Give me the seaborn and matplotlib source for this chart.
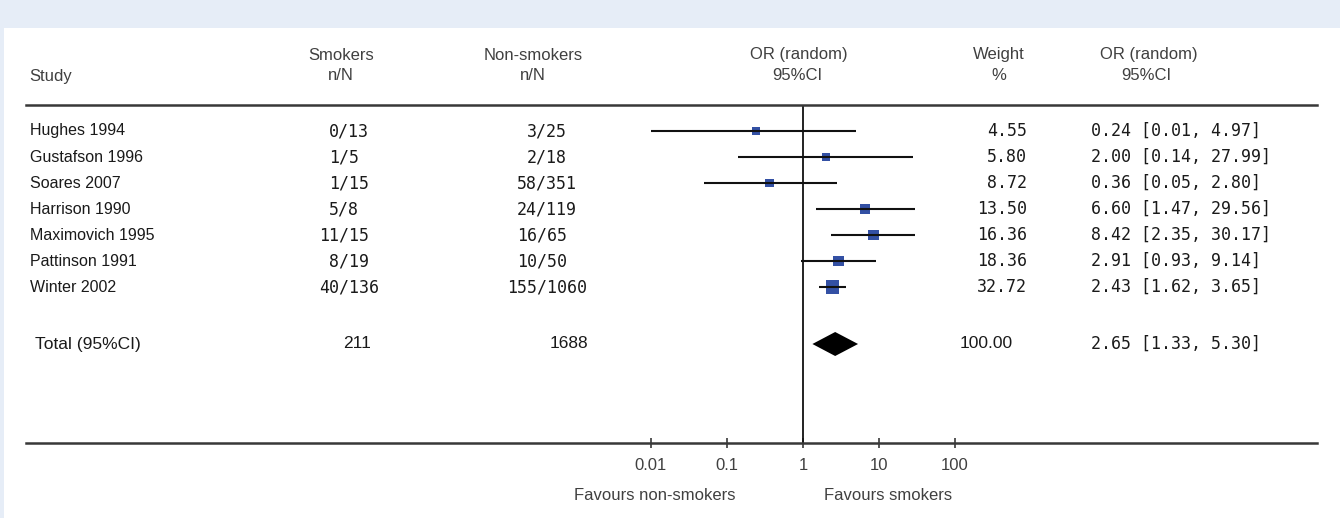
import numpy as np
import pandas as pd
import matplotlib
matplotlib.use("Agg")
import matplotlib.pyplot as plt
import matplotlib.transforms as mtransforms
from matplotlib.patches import Rectangle
import seaborn as sns

# ---------------- data ----------------
studies = ["Hughes 1994", "Gustafson 1996", "Soares 2007", "Harrison 1990",
           "Maximovich 1995", "Pattinson 1991", "Winter 2002"]
smokers_n = [0, 1, 1, 5, 11, 8, 40]
smokers_N = [13, 5, 15, 8, 15, 19, 136]
nonsmokers_n = [3, 2, 58, 24, 16, 10, 155]
nonsmokers_N = [25, 18, 351, 119, 65, 50, 1060]
weights = [4.55, 5.80, 8.72, 13.50, 16.36, 18.36, 32.72]
or_est = [0.24, 2.00, 0.36, 6.60, 8.42, 2.91, 2.43]
ci_low = [0.01, 0.14, 0.05, 1.47, 2.35, 0.93, 1.62]
ci_high = [4.97, 27.99, 2.80, 29.56, 30.17, 9.14, 3.65]

total_label = "Total (95%CI)"
total_smokers = 211
total_nonsmokers = 1688
total_weight = 100.00
total_or = 2.65
total_low = 1.33
total_high = 5.30

tick_values = [0.01, 0.1, 1, 10, 100]
tick_labels = ["0.01", "0.1", "1", "10", "100"]

# ---------------- style ----------------
sns.set_theme(style="white")
SANS = ["Liberation Sans", "DejaVu Sans"]
MONO = ["DejaVu Sans Mono"]
plt.rcParams["font.family"] = SANS

W, H = 1340, 518
fig = plt.figure(figsize=(W / 100, H / 100), dpi=100)
fig.patch.set_facecolor("#e6edf7")
fig.add_artist(Rectangle((4 / W, 0), 1 - 4 / W, 1 - 28 / H, transform=fig.transFigure,
                         facecolor="white", edgecolor="none", zorder=0))

# forest axes: spans the horizontal rules
x0, x1, y_top, y_bot = 26, 1317, 105, 443
ax = fig.add_axes([x0 / W, 1 - y_bot / H, (x1 - x0) / W, (y_bot - y_top) / H])
ax.set_facecolor("none")

ref_px, decade_px = 803, 76
ax.set_xscale("log")
ax.set_xlim(10 ** ((x0 - ref_px) / decade_px), 10 ** ((x1 - ref_px) / decade_px))
row0_px, row_px = 131, 26
ax.set_ylim((y_bot - row0_px) / row_px, -(row0_px - y_top) / row_px)

rows = np.arange(len(studies))
total_row = (344 - row0_px) / row_px

df = pd.DataFrame({"study": studies, "row": rows, "weight": weights,
                   "or": or_est, "lo": ci_low, "hi": ci_high})

# markers
sns.scatterplot(data=df, x="or", y="row", size="weight", sizes=(32, 90),
                size_norm=(min(weights), max(weights)), marker="s",
                color="#3350a4", linewidth=0, legend=False, ax=ax, zorder=3)
# CI lines
ax.hlines(df["row"], df["lo"], df["hi"], color="#111111", lw=1.5, zorder=4)
# null line
ax.axvline(1, color="#111111", lw=1.3, zorder=2)
# diamond
dh = 12 / row_px
ax.fill([total_low, total_or, total_high, total_or],
        [total_row, total_row - dh, total_row, total_row + dh],
        color="black", zorder=4, lw=0)

# axes styling
for side in ["left", "right"]:
    ax.spines[side].set_visible(False)
for side in ["top", "bottom"]:
    ax.spines[side].set_visible(True)
    ax.spines[side].set_color("#383838")
    ax.spines[side].set_linewidth(1.8)
ax.set_yticks([])
ax.set_xticks(tick_values)
ax.set_xticklabels(tick_labels)
ax.xaxis.set_minor_locator(matplotlib.ticker.NullLocator())
ax.tick_params(axis="x", direction="inout", length=7, width=1.2, color="#383838",
               pad=7, labelsize=12, labelcolor="#404040", bottom=True)
ax.set_xlabel("")
ax.set_ylabel("")

# ---------------- text ----------------
def fx(px):
    return px / W

def fy(py):
    return 1 - py / H

hdr = dict(fontsize=12, color="#404040", va="center", family=SANS)
fig.text(fx(29), fy(76), "Study", ha="left", **hdr)
fig.text(fx(341), fy(55), "Smokers", ha="center", **hdr)
fig.text(fx(341), fy(76), "n/N", ha="center", **hdr)
fig.text(fx(533), fy(55), "Non-smokers", ha="center", **hdr)
fig.text(fx(533), fy(76), "n/N", ha="center", **hdr)
fig.text(fx(799), fy(55), "OR (random)", ha="center", **hdr)
fig.text(fx(797), fy(76), "95%CI", ha="center", **hdr)
fig.text(fx(999), fy(55), "Weight", ha="center", **hdr)
fig.text(fx(999), fy(76), "%", ha="center", **hdr)
fig.text(fx(1149), fy(55), "OR (random)", ha="center", **hdr)
fig.text(fx(1146), fy(76), "95%CI", ha="center", **hdr)

trans = mtransforms.blended_transform_factory(fig.transFigure, ax.transData)
body = dict(transform=trans, va="center", color="#1a1a1a", clip_on=False)
MONO_PT = 12
mono = dict(family=MONO, fontsize=MONO_PT)
char_px = 0.602 * MONO_PT * 100 / 72  # advance width of one monospace character


def slash_aligned(slash_px, num, den, r):
    s = f"{num}/{den}"
    left = slash_px - (len(str(num)) + 0.5) * char_px
    ax.text(fx(left), r, s, ha="left", **mono, **body)


for i, r in enumerate(rows):
    ax.text(fx(30), r, studies[i], ha="left", family=SANS, fontsize=11.5, **body)
    slash_aligned(344, smokers_n[i], smokers_N[i], r)
    slash_aligned(542, nonsmokers_n[i], nonsmokers_N[i], r)
    ax.text(fx(1027), r, f"{weights[i]:.2f}", ha="right", **mono, **body)
    ax.text(fx(1091), r, f"{or_est[i]:.2f} [{ci_low[i]:.2f}, {ci_high[i]:.2f}]",
            ha="left", **mono, **body)

tot = dict(family=SANS, fontsize=12.5)
ax.text(fx(35), total_row, total_label, ha="left", **tot, **body)
ax.text(fx(357), total_row, f"{total_smokers}", ha="center", **tot, **body)
ax.text(fx(569), total_row, f"{total_nonsmokers}", ha="center", **tot, **body)
ax.text(fx(1013), total_row, f"{total_weight:.2f}", ha="right", **tot, **body)
ax.text(fx(1091), total_row, f"{total_or:.2f} [{total_low:.2f}, {total_high:.2f}]",
        ha="left", **mono, **body)

fig.text(fx(655), fy(495), "Favours non-smokers", ha="center", va="center",
         fontsize=12, color="#404040", family=SANS)
fig.text(fx(888), fy(495), "Favours smokers", ha="center", va="center",
         fontsize=12, color="#404040", family=SANS)

fig.savefig("out.png", dpi=100, facecolor=fig.get_facecolor())
